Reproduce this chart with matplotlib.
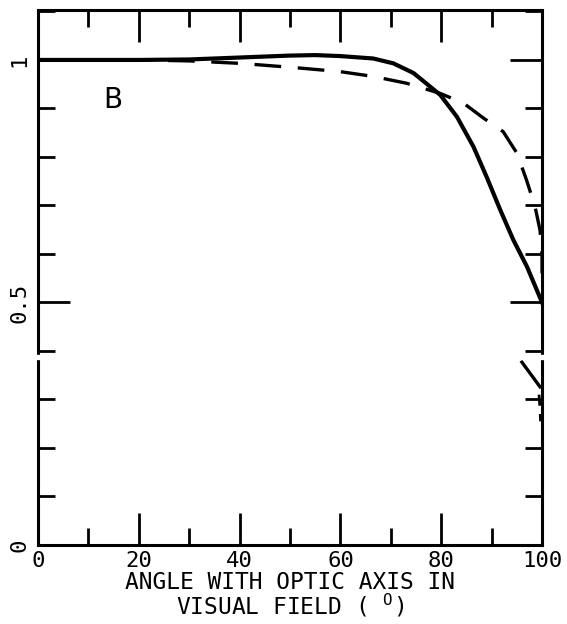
import numpy as np
import matplotlib.pyplot as plt
from matplotlib.ticker import MultipleLocator

# values
solid_x = [0, 10, 20, 30, 40, 50, 55, 59.9, 66.5, 70.5, 74.5, 79.8, 83.1, 86.4, 89.0, 91.7, 94.3, 97.0, 100]
solid_y = [1.0, 1.0, 1.0, 1.001, 1.005, 1.009, 1.01, 1.008, 1.003, 0.993, 0.973, 0.928, 0.883, 0.821, 0.759,
           0.691, 0.629, 0.574, 0.5]

dash_x = [0, 10, 20, 30, 40, 50, 59.9, 66.5, 73.1, 79.8, 84.4, 88.4, 92.3, 95.0, 96.9, 98.6, 99.6, 100, 100]
dash_y = [1.0, 1.0, 1.0, 0.998, 0.993, 0.985, 0.976, 0.966, 0.952, 0.931, 0.911, 0.880, 0.852, 0.808, 0.753,
          0.698, 0.649, 0.594, 0.56]

# stray pieces below the scan seam
frag_x = [96.0, 99.6]
frag_y = [0.377, 0.326]
frag2_x = [99.4, 99.6, 99.7]
frag2_y = [0.31, 0.28, 0.255]

xticks = [0, 20, 40, 60, 80, 100]
yticks = [0, 0.5, 1]
ylabels = ["0", "0.5", "1"]

plt.rcParams['font.family'] = ['DejaVu Sans Mono']

fig = plt.figure(figsize=(5.67, 6.24), dpi=100)
ax = fig.add_axes([0.067, 0.1266, 0.889, 0.8574])

ax.plot(solid_x, solid_y, color='black', lw=3.0, solid_joinstyle='round')
ax.plot(dash_x, dash_y, color='black', lw=2.4, dashes=(8, 5))
ax.plot(frag_x, frag_y, color='black', lw=2.4)
ax.plot(frag2_x, frag2_y, color='black', lw=2.0, dashes=(4, 3))

ax.set_xlim(0, 100)
ax.set_ylim(0, 1.103)

ax.set_xticks(xticks)
ax.set_xticklabels([str(v) for v in xticks], fontsize=16)
ax.xaxis.set_minor_locator(MultipleLocator(10))
ax.set_yticks(yticks)
ax.set_yticklabels(ylabels, fontsize=16, rotation=90, va='center')
ax.yaxis.set_minor_locator(MultipleLocator(0.1))

ax.tick_params(which='both', direction='in', top=True, right=True, width=2.0, pad=4)
ax.tick_params(which='major', length=23)
ax.tick_params(which='minor', length=12)
ax.tick_params(axis='y', which='major', pad=6)
for s in ax.spines.values():
    s.set_linewidth(2.2)

ax.text(14.9, 0.918, "B", family='DejaVu Sans', fontsize=20, ha='center', va='center')

ax.set_xlabel("ANGLE WITH OPTIC AXIS IN\nVISUAL FIELD ( $^{\\mathtt{O}}$)", fontsize=16.5,
              linespacing=0.95, labelpad=0)

# white seam across the scan
fig.patches.append(plt.Rectangle((0.05, 1 - 359 / 624), 0.93, 4 / 624, transform=fig.transFigure,
                                 color='white', zorder=10))

fig.savefig("out.png", dpi=100)
